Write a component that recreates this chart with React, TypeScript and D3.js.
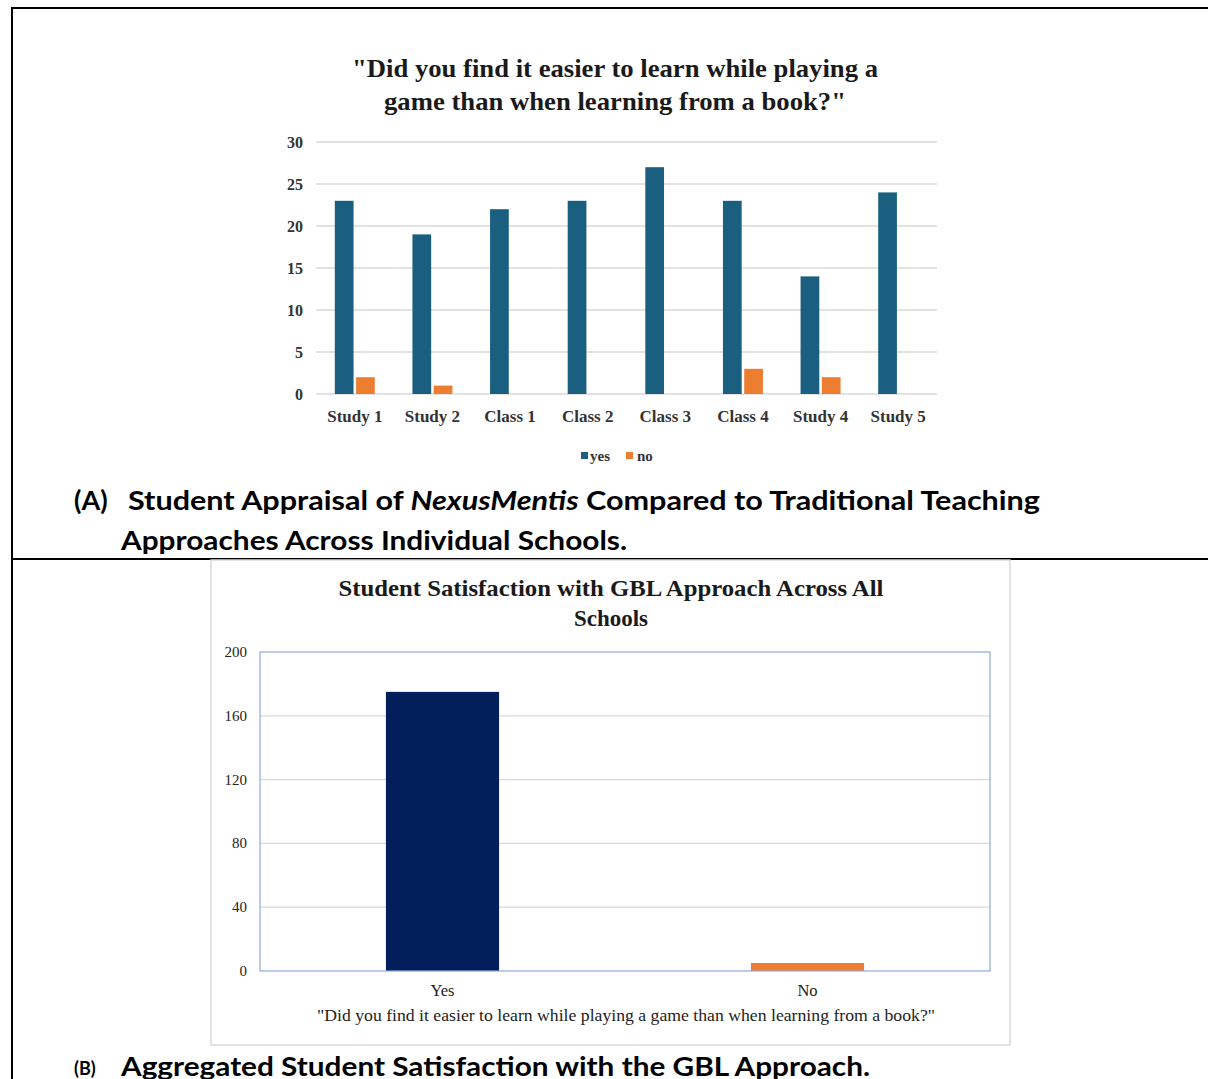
import React from "react";
import * as d3 from "d3";

// Per-school responses
const schools = ["Study 1", "Study 2", "Class 1", "Class 2", "Class 3", "Class 4", "Study 4", "Study 5"];
const yesCounts = [23, 19, 22, 23, 27, 23, 14, 24];
const noCounts = [2, 1, 0, 0, 0, 3, 2, 0];
const seriesKeys = ["yes", "no"];
const topTicks = [0, 5, 10, 15, 20, 25, 30];

// Aggregated responses
const answers = ["Yes", "No"];
const answerTotals = [175, 5];
const bottomTicks = [0, 40, 80, 120, 160, 200];

const W = 1208;
const H = 1079;
const serif = "'Liberation Serif', 'Times New Roman', serif";
const captionFont = "Lato, 'Open Sans', sans-serif";
const colors: Record<string, string> = { yes: "#1a5e80", no: "#ed7d31" };

function TopChart() {
  const x = d3.scaleBand<string>().domain(schools).range([316, 937]);
  const y = d3.scaleLinear().domain([0, 30]).range([394, 142]);
  const inner = d3.scaleBand<string>().domain(seriesKeys).range([0, 40]).paddingInner(0.12);
  const values: Record<string, number[]> = { yes: yesCounts, no: noCounts };
  return (
    <g>
      <text x={615} y={77} textAnchor="middle" fontFamily={serif} fontWeight="bold" fontSize={26} fill="#1a1a1a"
        textLength={526} lengthAdjust="spacingAndGlyphs">
        "Did you find it easier to learn while playing a
      </text>
      <text x={615} y={110} textAnchor="middle" fontFamily={serif} fontWeight="bold" fontSize={26} fill="#1a1a1a"
        textLength={462} lengthAdjust="spacingAndGlyphs">
        game than when learning from a book?"
      </text>
      {topTicks.map((t) => (
        <g key={t}>
          <line x1={316} x2={937} y1={y(t)} y2={y(t)} stroke="#d9d9d9" strokeWidth={1.5} />
          <text x={303} y={y(t) + 5.5} textAnchor="end" fontFamily={serif} fontWeight="bold" fontSize={16} fill="#333">
            {t}
          </text>
        </g>
      ))}
      {schools.map((s, i) => {
        const cx = (x(s) as number) + x.bandwidth() / 2;
        return (
          <g key={s}>
            {seriesKeys.map((k) => {
              const v = values[k][i];
              if (!v) return null;
              return (
                <rect
                  key={k}
                  x={cx - 20 + (inner(k) as number)}
                  y={y(v)}
                  width={inner.bandwidth()}
                  height={y(0) - y(v)}
                  fill={colors[k]}
                />
              );
            })}
            <text x={cx} y={422} textAnchor="middle" fontFamily={serif} fontWeight="bold" fontSize={17} fill="#333">
              {s}
            </text>
          </g>
        );
      })}
      <g fontFamily={serif} fontWeight="bold" fontSize={15} fill="#333">
        <rect x={581} y={452} width={7} height={7} fill={colors.yes} />
        <text x={590} y={461}>yes</text>
        <rect x={626} y={452} width={7} height={7} fill={colors.no} />
        <text x={637} y={461}>no</text>
      </g>
    </g>
  );
}

function BottomChart() {
  const x = d3.scaleBand<string>().domain(answers).range([260, 990]).paddingInner(0.69).paddingOuter(0.345);
  const y = d3.scaleLinear().domain([0, 200]).range([971, 652]);
  const barColors = ["#021f5c", "#ed7d31"];
  return (
    <g>
      <rect x={211} y={560} width={799} height={485} fill="#fff" stroke="#d9d9d9" strokeWidth={1.5} />
      <text x={611} y={596} textAnchor="middle" fontFamily={serif} fontWeight="bold" fontSize={23} fill="#1a1a1a"
        textLength={545} lengthAdjust="spacingAndGlyphs">
        Student Satisfaction with GBL Approach Across All
      </text>
      <text x={611} y={626} textAnchor="middle" fontFamily={serif} fontWeight="bold" fontSize={23} fill="#1a1a1a">
        Schools
      </text>
      {bottomTicks.map((t) => (
        <g key={t}>
          {t > 0 && t < 200 && (
            <line x1={260} x2={990} y1={y(t)} y2={y(t)} stroke="#d9d9d9" strokeWidth={1.2} />
          )}
          <text x={247} y={y(t) + 5} textAnchor="end" fontFamily={serif} fontSize={15} fill="#222">
            {t}
          </text>
        </g>
      ))}
      {answers.map((a, i) => (
        <rect
          key={a}
          x={x(a) as number}
          y={y(answerTotals[i])}
          width={x.bandwidth()}
          height={y(0) - y(answerTotals[i])}
          fill={barColors[i]}
        />
      ))}
      <rect x={260} y={652} width={730} height={319} fill="none" stroke="#8faadc" strokeWidth={1.2} />
      {answers.map((a) => (
        <text
          key={a}
          x={(x(a) as number) + x.bandwidth() / 2}
          y={996}
          textAnchor="middle"
          fontFamily={serif}
          fontSize={16.5}
          fill="#222"
        >
          {a}
        </text>
      ))}
      <text x={626} y={1021} textAnchor="middle" fontFamily={serif} fontSize={17} fill="#222"
        textLength={618} lengthAdjust="spacingAndGlyphs">
        "Did you find it easier to learn while playing a game than when learning from a book?"
      </text>
    </g>
  );
}

export default function App() {
  return (
    <svg
      width={W}
      height={H}
      viewBox={`0 0 ${W} ${H}`}
      style={{ position: "absolute", left: 0, top: 0, background: "#fff" }}
    >
      <rect x={0} y={0} width={W} height={H} fill="#fff" />
      {/* panel frame */}
      <line x1={12} x2={12} y1={7} y2={H} stroke="#000" strokeWidth={2} />
      <line x1={11} x2={W} y1={8} y2={8} stroke="#000" strokeWidth={2} />
      <line x1={11} x2={W} y1={559} y2={559} stroke="#000" strokeWidth={2} />

      <TopChart />

      <text x={74} y={510} fontFamily={captionFont} fontWeight="bold" fontSize={27} fill="#000">
        (A)
      </text>
      <text x={128} y={510} fontFamily={captionFont} fontWeight="bold" fontSize={27} fill="#000"
        textLength={912} lengthAdjust="spacingAndGlyphs">
        Student Appraisal of <tspan fontStyle="italic">NexusMentis</tspan> Compared to Traditional Teaching
      </text>
      <text x={121} y={550} fontFamily={captionFont} fontWeight="bold" fontSize={27} fill="#000"
        textLength={506} lengthAdjust="spacingAndGlyphs">
        Approaches Across Individual Schools.
      </text>

      <BottomChart />

      <text x={74} y={1075} fontFamily={captionFont} fontWeight="bold" fontSize={18} fill="#000">
        (B)
      </text>
      <text x={121} y={1076} fontFamily={captionFont} fontWeight="bold" fontSize={27} fill="#000"
        textLength={749} lengthAdjust="spacingAndGlyphs">
        Aggregated Student Satisfaction with the GBL Approach.
      </text>
    </svg>
  );
}
